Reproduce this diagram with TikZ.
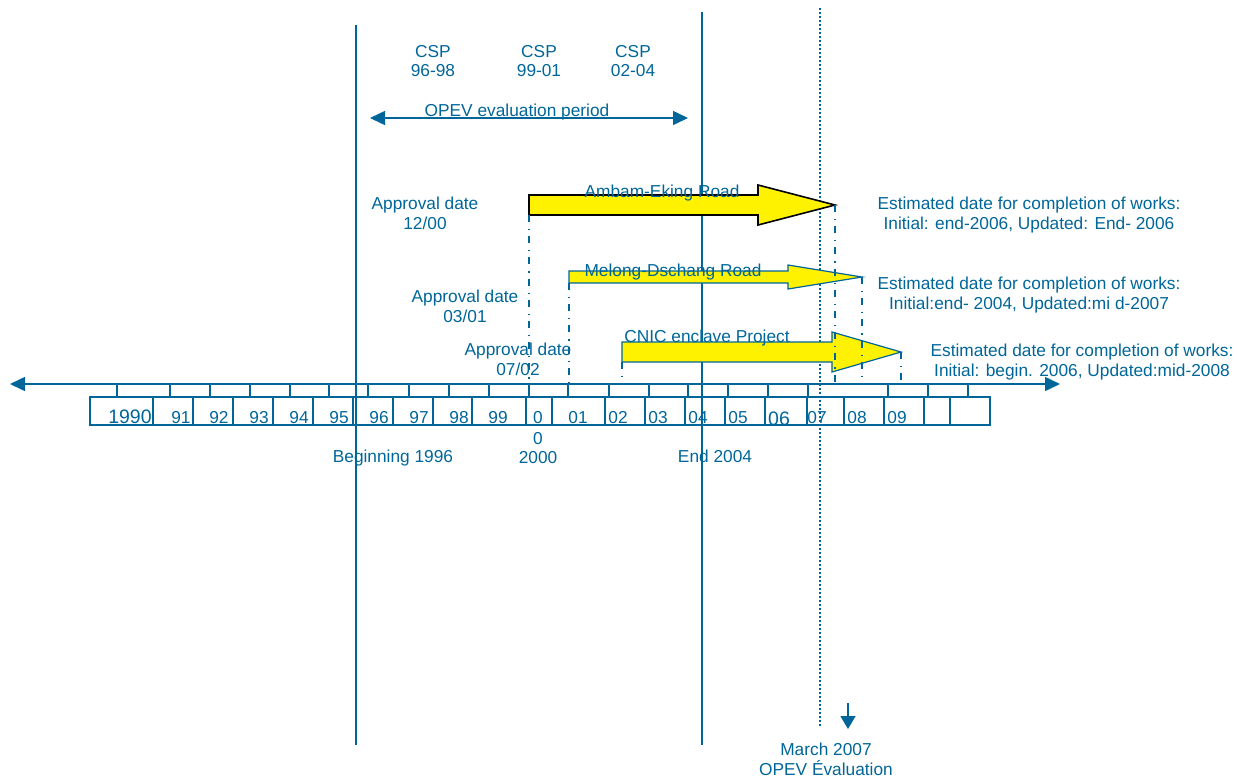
\documentclass[tikz,border=0pt]{standalone}
\usepackage{fontspec}
\setmainfont{Liberation Sans}
\usetikzlibrary{positioning,arrows.meta}
\definecolor{opevblue}{RGB}{0,102,153}
\tikzstyle{lbl} = [text=opevblue, inner sep=0pt, align=center, font=\fontsize{8.65}{9.7}\selectfont]
\tikzstyle{yr} = [lbl, anchor=base]
\tikzstyle{bigyr} = [yr, font=\fontsize{9.75}{10}\selectfont]
\tikzstyle{twolines} = [lbl, anchor=north]
\tikzstyle{periodline} = [draw=opevblue, line width=0.9pt]
\tikzstyle{timeline} = [draw=opevblue, line width=0.75pt]
\tikzstyle{drop} = [draw=opevblue, line width=1pt, dash pattern=on 3.5pt off 3.5pt on 0.6pt off 3pt]
\tikzstyle{evalline} = [draw=opevblue, line width=1pt, dash pattern=on 1pt off 1pt]
\tikzstyle{project} = [fill=yellow, draw=opevblue, line width=0.6pt]
\tikzstyle{bighead} = [{Triangle[length=7.5pt,width=7pt]}-{Triangle[length=7.5pt,width=7pt]}]

\begin{document}
\begin{tikzpicture}[x=0.5pt,y=-0.5pt]
			\useasboundingbox (0,0) rectangle (1237,778);
			% evaluated period and evaluation date
			\draw[periodline] (356,25) -- (356,745);
			\draw[periodline] (702,12) -- (702,745);
			\draw[evalline] (820,8) -- (820,727);
			\node[twolines] (csp1) at (433,45) {CSP\\96-98};
			\node[twolines] (csp2) at (539,45) {CSP\\99-01};
			\node[twolines] (csp3) at (633,45) {CSP\\02-04};
			\coordinate (pstart) at (370,118);
			\coordinate (pend) at (688,118);
			\draw[timeline, bighead] (pstart) -- (pend);
			\node[yr] (period) at (517,116) {OPEV evaluation period};
			% time axis
			\coordinate (past) at (10,384);
			\coordinate (future) at (1060,384);
			\draw[timeline, bighead] (past) -- (future);
			\foreach \x in {117,170,210,250,290,329,368,409,449,489,529,568,609,649,688,728,768,808,888,928,968}
				\draw[timeline] (\x,384) -- (\x,397);
			\draw[timeline] (90,397) rectangle (990,425);
			\foreach \x in {153,193,233,273,313,353,393,433,472,526,552,605,645,685,725,765,807,844,884,924,950}
				\draw[timeline] (\x,397) -- (\x,425);
			\node[bigyr] (yr1990) at (130,423) {1990};
			\foreach \x/\y in {181/91,219/92,259/93,299/94,339/95,379/96,419/97,459/98,498/99,538/0,578/01,618/02,658/03,698/04,738/05,817/07,857/08,897/09}
				\node[yr] (yr\y) at (\x,423) {\y};
			\node[bigyr] (yr06) at (779,425) {06};
			\node[twolines] (y2000) at (538,432) {0\\2000};
			\node[yr] (begin) at (393,462) {Beginning 1996};
			\node[yr] (end) at (715,462) {End 2004};
			% projects
			\coordinate (ambam start) at (529,215);
			\coordinate (ambam end) at (835,205);
			\draw[project, draw=black, line width=0.8pt] (529,195) -- (758,195) -- (758,185) -- (ambam end) -- (758,225) -- (758,215) -- (ambam start) -- cycle;
			\node[yr] (ambam) at (662,197) {Ambam-Eking Road};
			\coordinate (melong start) at (569,283);
			\coordinate (melong end) at (862,277);
			\draw[project] (569,271) -- (788,271) -- (788,265) -- (melong end) -- (788,289) -- (788,283) -- (melong start) -- cycle;
			\node[yr] (melong) at (673,276) {Melong-Dschang Road};
			\coordinate (cnic start) at (622,362);
			\coordinate (cnic end) at (901,352);
			\draw[project] (622,342) -- (832,342) -- (832,332) -- (cnic end) -- (832,372) -- (832,362) -- (cnic start) -- cycle;
			\node[yr] (cnic) at (707,342) {CNIC enclave Project};
			\foreach \p in {ambam start,ambam end,melong start,melong end,cnic start,cnic end}
				\draw[drop] (\p) -- (\p |- past);
			\node[twolines] (appr1) at (425,197) {Approval date\\12/00};
			\node[twolines] (appr2) at (465,290) {Approval date\\03/01};
			\node[twolines] (appr3) at (518,343) {Approval date\\07/02};
			\node[twolines] (est1) at (1029,197) {Estimated date for completion of works:\\Initial: end-2006, Updated: End- 2006};
			\node[twolines] (est2) at (1029,277) {Estimated date for completion of works:\\Initial:end- 2004, Updated:mi d-2007};
			\node[twolines] (est3) at (1082,344) {Estimated date for completion of works:\\Initial: begin. 2006, Updated:mid-2008};
			% evaluation mission
			\coordinate (evaltop) at (848,703);
			\coordinate (evaltip) at (848,729);
			\draw[timeline, -{Triangle[length=6.5pt,width=7.5pt]}] (evaltop) -- (evaltip);
			\node[twolines] (mission) at (826,743) {March 2007\\OPEV \'Evaluation};
		\end{tikzpicture}
\end{document}
